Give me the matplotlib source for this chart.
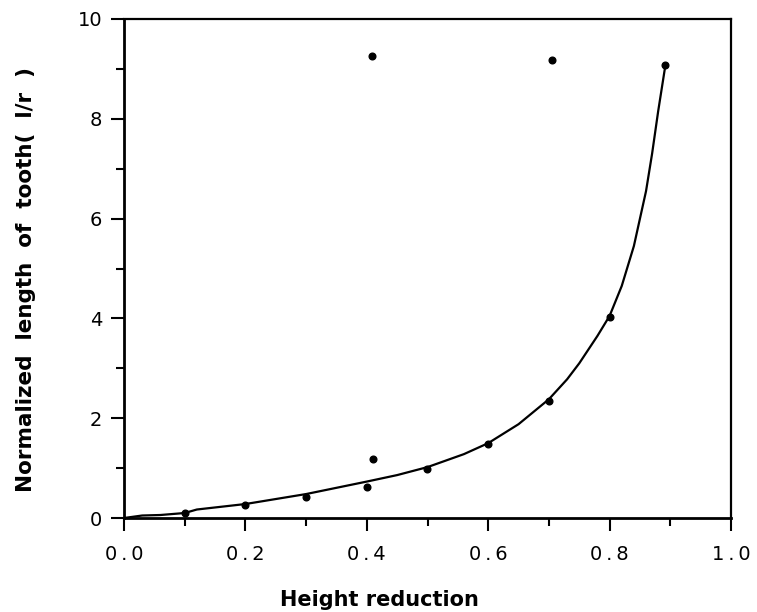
import matplotlib
matplotlib.use("Agg")
import matplotlib.pyplot as plt
from matplotlib.ticker import MultipleLocator

# ---- data ----
point_x = [0.10, 0.20, 0.30, 0.40, 0.41, 0.50, 0.60, 0.70, 0.80, 0.892, 0.408, 0.705]
point_y = [0.10, 0.26, 0.43, 0.63, 1.18, 0.98, 1.48, 2.35, 4.03, 9.08, 9.26, 9.18]

curve_x = [0.0, 0.03, 0.06, 0.10, 0.12, 0.20, 0.30, 0.40, 0.45, 0.50, 0.56, 0.60,
           0.65, 0.70, 0.73, 0.75, 0.78, 0.80, 0.82, 0.84, 0.86, 0.87, 0.88, 0.892]
curve_y = [0.0, 0.05, 0.06, 0.10, 0.17, 0.28, 0.48, 0.73, 0.86, 1.02, 1.28, 1.50,
           1.88, 2.38, 2.78, 3.10, 3.65, 4.05, 4.65, 5.45, 6.55, 7.30, 8.15, 9.08]

xtick_values = [0.0, 0.2, 0.4, 0.6, 0.8, 1.0]
xtick_labels = ["0.0", "0.2", "0.4", "0.6", "0.8", "1.0"]
ytick_values = [0, 2, 4, 6, 8, 10]
ytick_labels = ["0", "2", "4", "6", "8", "10"]

x_label = "Height reduction"
y_label = "Normalized length of tooth( l/r )"

# ---- figure ----
W, H = 757, 612
fig = plt.figure(figsize=(W / 100, H / 100), dpi=100)
left, right, bottom, top = 124, 731, 518, 19
ax = fig.add_axes([left / W, 1 - bottom / H, (right - left) / W, (bottom - top) / H])

ax.plot(curve_x, curve_y, color="black", lw=1.6, solid_capstyle="round",
        solid_joinstyle="round")
ax.plot(point_x, point_y, "o", color="black", ms=4.8, mec="black")

ax.set_xlim(0, 1.0)
ax.set_ylim(0, 10)

ax.set_xticks(xtick_values)
ax.set_xticklabels([s.replace(".", "\u2009.\u2009") for s in xtick_labels])
ax.set_yticks(ytick_values)
ax.set_yticklabels(ytick_labels)
ax.xaxis.set_minor_locator(MultipleLocator(0.1))
ax.yaxis.set_minor_locator(MultipleLocator(1))

ax.tick_params(axis="both", which="major", direction="out", length=9.5, width=1.5,
               labelsize=14, colors="black")
ax.tick_params(axis="both", which="minor", direction="out", length=6, width=1.5)
ax.tick_params(axis="x", which="major", pad=10)
ax.tick_params(axis="y", which="major", pad=6)
ax.tick_params(top=False, right=False, which="both")

for side in ["left", "bottom"]:
    ax.spines[side].set_linewidth(2.0)
for side in ["top", "right"]:
    ax.spines[side].set_linewidth(1.6)

fig.text(379 / W, 6 / H, x_label, ha="center", va="baseline",
         fontsize=15, fontweight="bold", family="DejaVu Sans")
fig.text(26 / W, 1 - 280 / H, y_label.replace(" ", "  "), rotation=90,
         ha="center", va="center", fontsize=15.5, fontweight="bold",
         family="DejaVu Sans")

fig.savefig("out.png", dpi=100, facecolor="white")
